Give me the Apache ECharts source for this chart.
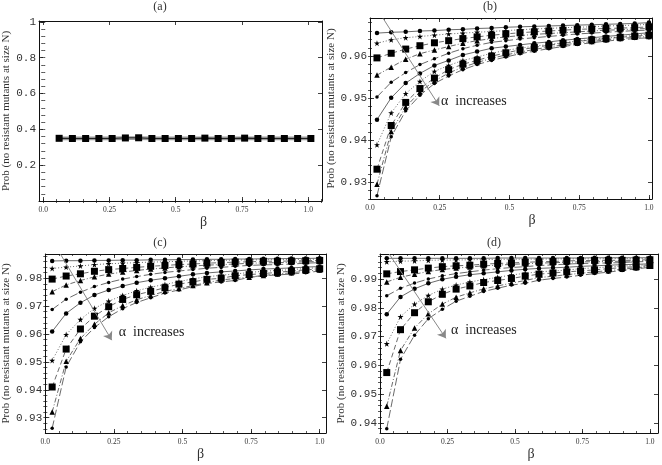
<!DOCTYPE html>
<html>
<head>
<meta charset="utf-8">
<script src="https://cdn.jsdelivr.net/npm/echarts@6/dist/echarts.min.js"></script>
<style>
  html, body { margin: 0; background: #fff; }
  #chart { width: 662px; height: 465px; }
</style>
</head>
<body>
<div id="chart"></div>
<script>
// beta values of the points
var betaA = [0.06, 0.11, 0.16, 0.21, 0.26, 0.31, 0.36, 0.41, 0.46, 0.51, 0.56, 0.61, 0.66, 0.71, 0.76, 0.81, 0.86, 0.91, 0.96, 1.01];
var beta = [0.025, 0.076, 0.128, 0.179, 0.231, 0.282, 0.333, 0.384, 0.436, 0.487, 0.538, 0.589, 0.641, 0.692, 0.743, 0.795, 0.846, 0.897, 0.949, 1.0];

// panel (a): all curves sit on top of each other
var aMain = [0.350, 0.349, 0.349, 0.349, 0.349, 0.352, 0.353, 0.349, 0.349, 0.349, 0.349, 0.351, 0.349, 0.349, 0.351, 0.349, 0.349, 0.349, 0.349, 0.349];
var aUpper = [0.356, 0.356, 0.356, 0.356, 0.356, 0.357, 0.357, 0.356, 0.356, 0.356, 0.356, 0.356, 0.356, 0.356, 0.356, 0.356, 0.356, 0.356, 0.356, 0.356];
var aLower = [0.344, 0.344, 0.344, 0.344, 0.344, 0.345, 0.345, 0.344, 0.344, 0.344, 0.344, 0.344, 0.344, 0.344, 0.344, 0.344, 0.344, 0.344, 0.344, 0.344];

// panel (b), alpha increasing from b1 to b10
var b1 = [0.9655, 0.9657, 0.9658, 0.9660, 0.9661, 0.9663, 0.9664, 0.9666, 0.9667, 0.9669, 0.9670, 0.9671, 0.9672, 0.9673, 0.9674, 0.9675, 0.9676, 0.9677, 0.9678, 0.9680];
var b2 = [0.9631, 0.9639, 0.9644, 0.9647, 0.9650, 0.9653, 0.9655, 0.9657, 0.9659, 0.9661, 0.9663, 0.9665, 0.9666, 0.9668, 0.9669, 0.9670, 0.9672, 0.9673, 0.9674, 0.9676];
var b3 = [0.9596, 0.9607, 0.9617, 0.9625, 0.9632, 0.9637, 0.9642, 0.9646, 0.9650, 0.9653, 0.9656, 0.9658, 0.9660, 0.9662, 0.9664, 0.9665, 0.9666, 0.9667, 0.9668, 0.9670];
var b4 = [0.9555, 0.9574, 0.9593, 0.9606, 0.9615, 0.9623, 0.9631, 0.9637, 0.9642, 0.9646, 0.9649, 0.9652, 0.9654, 0.9656, 0.9658, 0.9660, 0.9662, 0.9663, 0.9665, 0.9666];
var b5 = [0.9503, 0.9538, 0.9561, 0.9580, 0.9594, 0.9607, 0.9618, 0.9626, 0.9633, 0.9637, 0.9641, 0.9644, 0.9647, 0.9650, 0.9653, 0.9655, 0.9657, 0.9659, 0.9661, 0.9662];
var b6 = [0.9449, 0.9501, 0.9536, 0.9559, 0.9578, 0.9590, 0.9603, 0.9611, 0.9619, 0.9623, 0.9627, 0.9631, 0.9634, 0.9638, 0.9641, 0.9644, 0.9647, 0.9650, 0.9653, 0.9656];
var b7 = [0.9389, 0.9465, 0.9511, 0.9540, 0.9564, 0.9578, 0.9590, 0.9598, 0.9607, 0.9614, 0.9619, 0.9624, 0.9628, 0.9632, 0.9636, 0.9640, 0.9643, 0.9646, 0.9650, 0.9653];
var b8 = [0.9331, 0.9435, 0.9490, 0.9523, 0.9548, 0.9568, 0.9581, 0.9590, 0.9600, 0.9608, 0.9615, 0.9621, 0.9626, 0.9631, 0.9635, 0.9639, 0.9642, 0.9645, 0.9648, 0.9650];
var b9 = [0.9295, 0.9421, 0.9479, 0.9515, 0.9541, 0.9560, 0.9574, 0.9585, 0.9595, 0.9603, 0.9610, 0.9616, 0.9622, 0.9627, 0.9631, 0.9635, 0.9639, 0.9642, 0.9645, 0.9647];
var b10 = [0.9268, 0.9408, 0.9470, 0.9507, 0.9535, 0.9553, 0.9568, 0.9580, 0.9590, 0.9598, 0.9606, 0.9612, 0.9618, 0.9623, 0.9628, 0.9632, 0.9636, 0.9639, 0.9642, 0.9644];

// panel (c)
var c1 = [0.9862, 0.9863, 0.9863, 0.9864, 0.9864, 0.9865, 0.9865, 0.9866, 0.9866, 0.9867, 0.9867, 0.9868, 0.9868, 0.9869, 0.9869, 0.9870, 0.9870, 0.9871, 0.9871, 0.9872];
var c2 = [0.9835, 0.9840, 0.9844, 0.9849, 0.9852, 0.9854, 0.9856, 0.9858, 0.9859, 0.9861, 0.9862, 0.9863, 0.9864, 0.9865, 0.9866, 0.9866, 0.9867, 0.9867, 0.9868, 0.9868];
var c3 = [0.9797, 0.9808, 0.9816, 0.9825, 0.9831, 0.9835, 0.9839, 0.9843, 0.9846, 0.9849, 0.9851, 0.9854, 0.9856, 0.9858, 0.9859, 0.9861, 0.9861, 0.9862, 0.9863, 0.9864];
var c4 = [0.9752, 0.9776, 0.9792, 0.9805, 0.9815, 0.9822, 0.9828, 0.9833, 0.9837, 0.9841, 0.9844, 0.9847, 0.9849, 0.9851, 0.9854, 0.9855, 0.9856, 0.9857, 0.9859, 0.9860];
var c5 = [0.9688, 0.9725, 0.9750, 0.9770, 0.9785, 0.9797, 0.9806, 0.9814, 0.9821, 0.9826, 0.9831, 0.9836, 0.9839, 0.9843, 0.9846, 0.9848, 0.9849, 0.9851, 0.9854, 0.9856];
var c6 = [0.9609, 0.9674, 0.9712, 0.9740, 0.9758, 0.9772, 0.9784, 0.9793, 0.9800, 0.9807, 0.9814, 0.9819, 0.9823, 0.9826, 0.9830, 0.9833, 0.9835, 0.9837, 0.9840, 0.9842];
var c7 = [0.9505, 0.9598, 0.9652, 0.9692, 0.9718, 0.9738, 0.9755, 0.9768, 0.9778, 0.9788, 0.9798, 0.9805, 0.9811, 0.9815, 0.9821, 0.9825, 0.9828, 0.9831, 0.9835, 0.9838];
var c8 = [0.9410, 0.9546, 0.9618, 0.9664, 0.9698, 0.9724, 0.9741, 0.9753, 0.9766, 0.9779, 0.9787, 0.9796, 0.9800, 0.9809, 0.9813, 0.9817, 0.9821, 0.9826, 0.9830, 0.9834];
var c9 = [0.9320, 0.9502, 0.9584, 0.9635, 0.9676, 0.9702, 0.9723, 0.9738, 0.9753, 0.9763, 0.9774, 0.9784, 0.9794, 0.9799, 0.9804, 0.9810, 0.9815, 0.9820, 0.9825, 0.9830];
var c10 = [0.9262, 0.9482, 0.9572, 0.9623, 0.9662, 0.9691, 0.9713, 0.9730, 0.9747, 0.9758, 0.9770, 0.9781, 0.9787, 0.9792, 0.9803, 0.9809, 0.9812, 0.9815, 0.9820, 0.9826];

// panel (d)
var d1 = [0.9972, 0.9972, 0.9972, 0.9972, 0.9972, 0.9972, 0.9972, 0.9972, 0.9973, 0.9973, 0.9973, 0.9973, 0.9973, 0.9973, 0.9973, 0.9974, 0.9974, 0.9974, 0.9974, 0.9974];
var d2 = [0.9960, 0.9962, 0.9963, 0.9965, 0.9966, 0.9966, 0.9967, 0.9968, 0.9968, 0.9969, 0.9969, 0.9969, 0.9970, 0.9970, 0.9970, 0.9970, 0.9971, 0.9971, 0.9971, 0.9971];
var d3 = [0.9918, 0.9926, 0.9932, 0.9938, 0.9943, 0.9946, 0.9948, 0.9952, 0.9954, 0.9956, 0.9958, 0.9960, 0.9961, 0.9963, 0.9964, 0.9965, 0.9965, 0.9965, 0.9966, 0.9967];
var d4 = [0.9890, 0.9906, 0.9917, 0.9926, 0.9933, 0.9938, 0.9942, 0.9946, 0.9948, 0.9951, 0.9953, 0.9955, 0.9957, 0.9958, 0.9960, 0.9960, 0.9961, 0.9962, 0.9963, 0.9964];
var d5 = [0.9842, 0.9868, 0.9886, 0.9900, 0.9911, 0.9919, 0.9925, 0.9931, 0.9936, 0.9940, 0.9943, 0.9947, 0.9949, 0.9952, 0.9954, 0.9955, 0.9956, 0.9957, 0.9960, 0.9961];
var d6 = [0.9778, 0.9838, 0.9866, 0.9885, 0.9899, 0.9908, 0.9915, 0.9920, 0.9925, 0.9930, 0.9934, 0.9937, 0.9939, 0.9941, 0.9944, 0.9946, 0.9948, 0.9950, 0.9951, 0.9953];
var d7 = [0.9675, 0.9769, 0.9813, 0.9843, 0.9865, 0.9879, 0.9890, 0.9898, 0.9906, 0.9914, 0.9920, 0.9925, 0.9928, 0.9931, 0.9936, 0.9939, 0.9942, 0.9945, 0.9947, 0.9950];
var d8 = [0.9575, 0.9724, 0.9783, 0.9821, 0.9847, 0.9865, 0.9876, 0.9888, 0.9895, 0.9902, 0.9910, 0.9917, 0.9921, 0.9925, 0.9928, 0.9932, 0.9936, 0.9940, 0.9943, 0.9947];
var d9 = [0.9458, 0.9652, 0.9730, 0.9779, 0.9813, 0.9837, 0.9852, 0.9866, 0.9876, 0.9886, 0.9895, 0.9905, 0.9910, 0.9915, 0.9920, 0.9925, 0.9929, 0.9934, 0.9939, 0.9944];
var d10 = [0.9380, 0.9621, 0.9705, 0.9762, 0.9795, 0.9823, 0.9840, 0.9857, 0.9868, 0.9879, 0.9885, 0.9896, 0.9902, 0.9907, 0.9913, 0.9919, 0.9924, 0.9930, 0.9935, 0.9941];

// tick values and labels
var xTicks = [0, 0.25, 0.5, 0.75, 1];
var xTickLabels = ['0.0', '0.25', '0.5', '0.75', '1.0'];
var aYTicks = [0, 0.2, 0.4, 0.6, 0.8, 1];
var aYTickLabels = ['', '0.2', '0.4', '0.6', '0.8', '1'];
var bYTicks = [0.93, 0.94, 0.95, 0.96];
var cYTicks = [0.93, 0.94, 0.95, 0.96, 0.97, 0.98];
var dYTicks = [0.94, 0.95, 0.96, 0.97, 0.98, 0.99];

var yTitle = 'Prob (no resistant mutants at size N)';
var serif = '"Liberation Serif", "DejaVu Serif", serif';
var mono = '"Liberation Mono", "DejaVu Sans Mono", monospace';

var STAR = 'path://M50,0 L61,35 L98,35 L68,57 L79,91 L50,70 L21,91 L32,57 L2,35 L39,35 Z';
var markers = [
  { symbol: 'circle', size: 4.5 },
  { symbol: STAR, size: 6 },
  { symbol: 'rect', size: 7 },
  { symbol: 'triangle', size: 5.5 },
  { symbol: 'circle', size: 3.5 }
];
var dashes = ['solid', [1, 2], [5, 3], [5, 2, 1, 2], [8, 3]];

function minorList(min, max, step) {
  var out = [];
  var start = Math.ceil(min / step - 1e-9);
  for (var i = start; i * step <= max + 1e-9; i++) out.push(+(i * step).toFixed(4));
  return out;
}

function labelOf(ticks, labels) {
  return function (v) {
    for (var i = 0; i < ticks.length; i++) {
      if (Math.abs(ticks[i] - v) < 1e-6) return labels ? labels[i] : ticks[i].toFixed(2);
    }
    return '';
  };
}

// four axes per side pair: main (labels, big ticks), minor ticks, opposite side main, opposite minor
function axesFor(dim, grid, min, max, major, minor, fmt, extra) {
  var sides = dim === 'x' ? ['bottom', 'top'] : ['left', 'right'];
  var list = [];
  sides.forEach(function (side, i) {
    var main = {
      type: 'value', gridIndex: grid, position: side, min: min, max: max,
      splitLine: { show: false },
      axisLine: { show: true, onZero: false, lineStyle: { color: '#111', width: 1 } },
      axisTick: { show: true, inside: true, length: 4, customValues: major, lineStyle: { color: '#111', width: 0.8 } },
      axisLabel: { show: false }
    };
    if (i === 0) {
      main.axisLabel = dim === 'x'
        ? { show: true, customValues: major, formatter: fmt, margin: 5, color: '#333', fontFamily: serif, fontSize: 7.5 }
        : { show: true, customValues: major, formatter: fmt, margin: 3, color: '#333', fontFamily: mono, fontSize: 11 };
      Object.assign(main, extra);
    }
    list.push(main);
    list.push({
      type: 'value', gridIndex: grid, position: side, min: min, max: max,
      splitLine: { show: false }, axisLine: { show: false }, axisLabel: { show: false },
      axisTick: { show: true, inside: true, length: 2, customValues: minor, lineStyle: { color: '#111', width: 0.7 } }
    });
  });
  return list;
}

var xName = function (shift) {
  return {
    name: 'β', nameLocation: 'middle', nameGap: 9,
    nameTextStyle: { fontFamily: serif, fontSize: 14, color: '#333', padding: [0, 0, 0, shift] }
  };
};
var yName = { name: yTitle, nameLocation: 'middle', nameGap: 27, nameTextStyle: { fontFamily: serif, fontSize: 11, color: '#333' } };

var grids = [
  { left: 39, top: 21, width: 283, height: 180 },
  { left: 370, top: 18, width: 282, height: 181 },
  { left: 43, top: 254, width: 283, height: 179 },
  { left: 380, top: 254, width: 278, height: 179 }
];

var xFmt = labelOf(xTicks, xTickLabels);
var xAxes = []
  .concat(axesFor('x', 0, -0.016, 1.052, xTicks, minorList(0, 1.05, 0.05), xFmt, xName(46)))
  .concat(axesFor('x', 1, 0, 1.011, xTicks, minorList(0, 1.01, 0.05), xFmt, xName(42)))
  .concat(axesFor('x', 2, 0, 1.023, xTicks, minorList(0, 1.02, 0.05), xFmt, xName(30)))
  .concat(axesFor('x', 3, 0, 1.03, xTicks, minorList(0, 1.03, 0.05), xFmt, xName(24)));
var yAxes = []
  .concat(axesFor('y', 0, 0, 1.005, aYTicks, minorList(0, 1, 0.04), labelOf(aYTicks, aYTickLabels), yName))
  .concat(axesFor('y', 1, 0.926, 0.9691, bYTicks, minorList(0.926, 0.969, 0.002), labelOf(bYTicks), yName))
  .concat(axesFor('y', 2, 0.9245, 0.9887, cYTicks, minorList(0.9245, 0.9887, 0.002), labelOf(cYTicks), yName))
  .concat(axesFor('y', 3, 0.9365, 0.9987, dYTicks, minorList(0.9365, 0.9987, 0.002), labelOf(dYTicks), yName));

function pairs(xs, ys) {
  return xs.map(function (x, i) { return [x, ys[i]]; });
}

var series = [];

// panel (a)
[aUpper, aLower].forEach(function (vals) {
  series.push({
    type: 'line', xAxisIndex: 0, yAxisIndex: 0, data: pairs(betaA, vals),
    symbol: 'none', lineStyle: { color: '#999', width: 1.5 }, silent: true
  });
});
series.push({
  type: 'line', xAxisIndex: 0, yAxisIndex: 0, data: pairs(betaA, aMain),
  symbol: 'rect', symbolSize: 7, itemStyle: { color: '#000' },
  lineStyle: { color: '#222', width: 1.2 }, silent: true
});

// annotation arrows: [start, end, text anchor]
var arrows = [
  null,
  [[0.047, 0.9690], [0.248, 0.9482], [0.2545, 0.9493]],
  [[0.055, 0.9887], [0.242, 0.9578], [0.2675, 0.9607]],
  [[0.034, 0.9987], [0.244, 0.9694], [0.263, 0.9723]]
];

var panels = [null, [b1, b2, b3, b4, b5, b6, b7, b8, b9, b10], [c1, c2, c3, c4, c5, c6, c7, c8, c9, c10], [d1, d2, d3, d4, d5, d6, d7, d8, d9, d10]];

for (var g = 1; g <= 3; g++) {
  panels[g].forEach(function (vals, i) {
    var m = markers[i % 5];
    var s = {
      type: 'line', xAxisIndex: 4 * g, yAxisIndex: 4 * g, data: pairs(beta, vals),
      symbol: m.symbol, symbolSize: m.size, showAllSymbol: true,
      itemStyle: { color: '#000' },
      lineStyle: { color: '#444', width: 0.8, type: dashes[i % 5] },
      silent: true
    };
    if (i === 0) {
      var a = arrows[g];
      s.markLine = {
        silent: true, symbol: ['none', 'arrow'], symbolSize: 8,
        lineStyle: { color: '#888', width: 1, type: 'solid' },
        label: { show: false },
        data: [[{ coord: a[0] }, { coord: a[1] }]]
      };
      s.markPoint = {
        silent: true, symbol: 'circle', symbolSize: 0,
        label: { show: true, position: 'right', distance: 0, formatter: 'α  increases', fontFamily: serif, fontSize: 14, color: '#222' },
        data: [{ coord: a[2] }]
      };
    }
    series.push(s);
  });
}

var titles = [['(a)', 160, 7], ['(b)', 490, 7], ['(c)', 160, 243], ['(d)', 494, 243]];

var chart = echarts.init(document.getElementById('chart'));
chart.setOption({
  animation: false,
  backgroundColor: '#fff',
  grid: grids,
  xAxis: xAxes,
  yAxis: yAxes,
  series: series,
  graphic: titles.map(function (t) {
    return {
      type: 'text', x: t[1], y: t[2],
      style: { text: t[0], align: 'center', verticalAlign: 'middle', fontFamily: serif, fontSize: 12, fill: '#333' }
    };
  })
});
</script>
</body>
</html>
